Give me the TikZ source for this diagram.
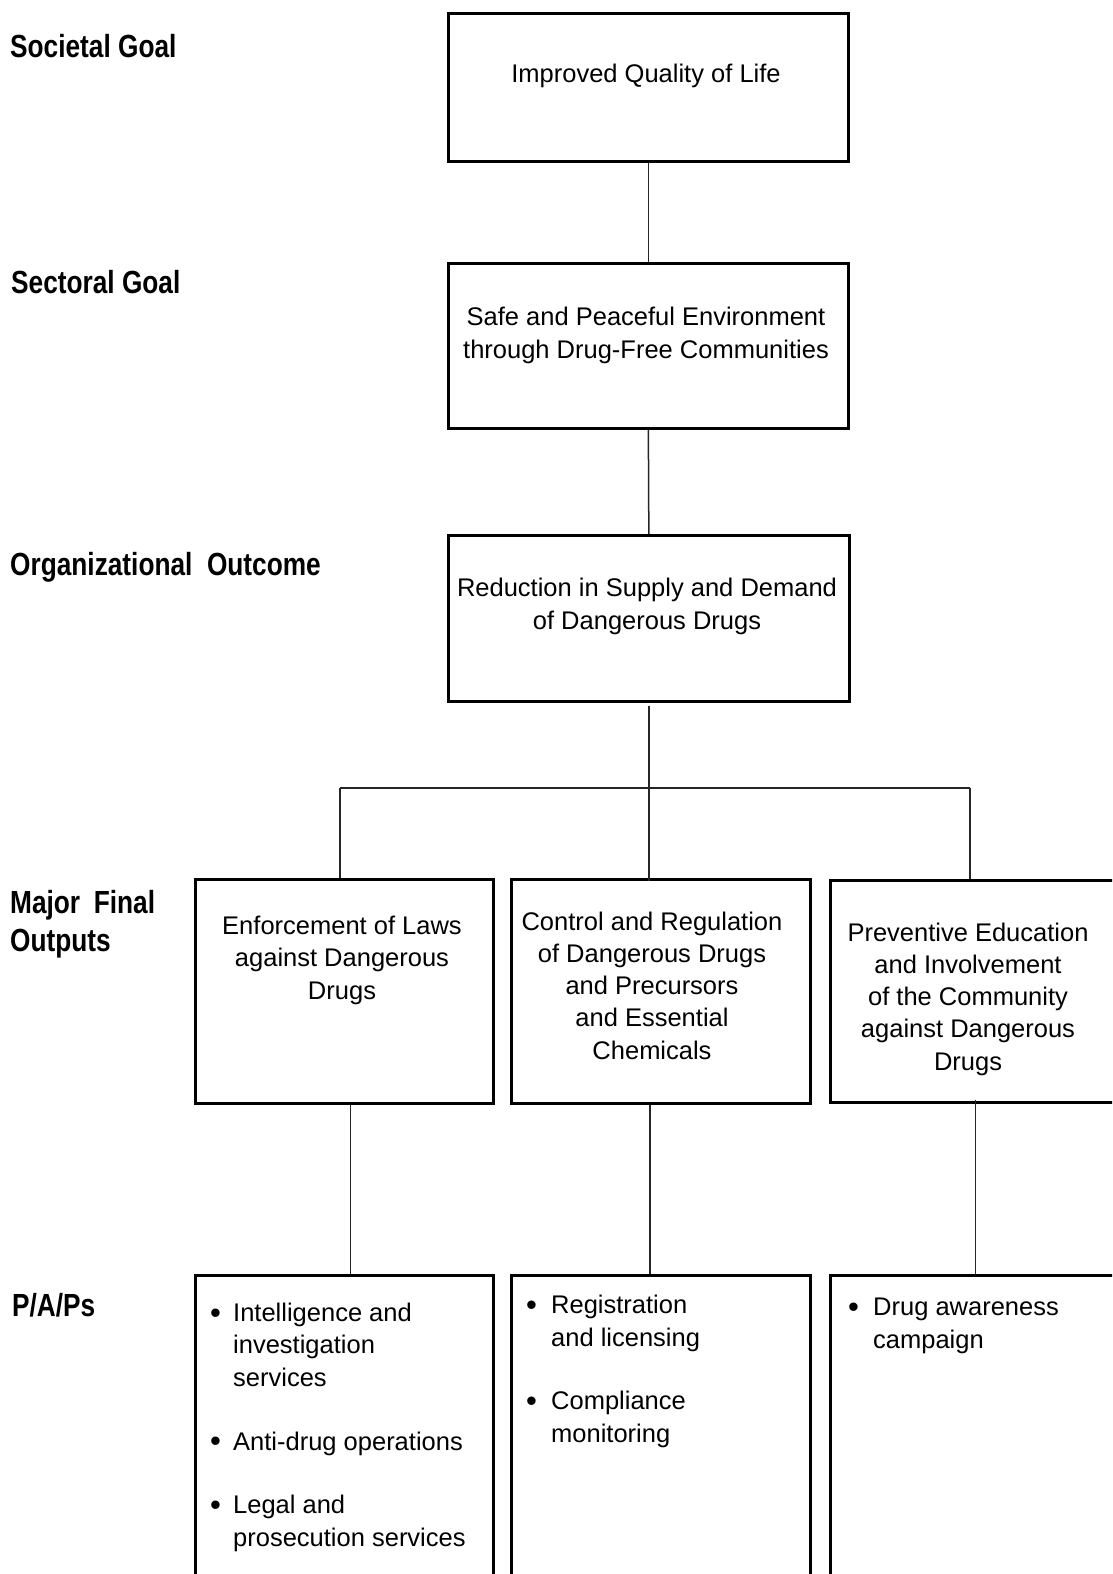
\documentclass[tikz,border=0pt]{standalone}
\usepackage{fontspec}
\setmainfont{Liberation Sans}
\newfontfamily\lblfont{Liberation Sans}[FakeStretch=0.82]
\begin{document}
\begin{tikzpicture}[x=1pt,y=-1pt,
  box/.style={draw=black, line width=2.7pt, inner sep=0pt, anchor=north west},
  link/.style={draw=black!85, line width=1.5pt},
  lbl/.style={font=\lblfont\bfseries\fontsize{32}{38}\selectfont, anchor=base west, inner sep=0pt, align=left},
  txt/.style={font=\fontsize{25.5}{32.1}\selectfont, anchor=base, inner sep=0pt, align=center},
  item/.style={font=\fontsize{25.5}{32.1}\selectfont, anchor=base west, inner sep=0pt, align=left},
  dot/.style={font=\fontsize{31}{32}\selectfont, anchor=base west, inner sep=0pt}]
\useasboundingbox (0,0) rectangle (1112,1574);
\fill[white] (0,0) rectangle (1112,1574);
\clip (0,0) rectangle (1112,1574);
% left labels (anchor = baseline of last line)
\node[lbl] (l1) at (10,57) {Societal Goal};
\node[lbl] (l2) at (11,293) {Sectoral Goal};
\node[lbl] (l3) at (10,575) {Organizational\ \ Outcome};
\node[lbl] (l4) at (10,951) {Major\hspace{0.2em} Final\\Outputs};
\node[lbl] (l5) at (12,1316) {P/A/Ps};
% boxes
\node[box, minimum width=400pt, minimum height=148pt] (b1) at (447,12) {};
\node[box, minimum width=400pt, minimum height=165pt] (b2) at (447,262) {};
\node[box, minimum width=401pt, minimum height=166pt] (b3) at (447,534) {};
\node[box, minimum width=298pt, minimum height=224pt] (m1) at (194,878) {};
\node[box, minimum width=299pt, minimum height=224pt] (m2) at (510,878) {};
\node[box, minimum width=320pt, minimum height=222pt] (m3) at (829,879) {};
\node[box, minimum width=298pt, minimum height=340pt] (p1) at (194,1274) {};
\node[box, minimum width=299pt, minimum height=340pt] (p2) at (510,1274) {};
\node[box, minimum width=320pt, minimum height=340pt] (p3) at (829,1274) {};
% connectors
\draw[link] (b1.south) -- (b2.north);
\draw[link] (b2.south) -- (b3.north);
\coordinate (busL) at (340,788);
\coordinate (busR) at (970,788);
\draw[link] ([yshift=-3pt]b3.south) -- ([yshift=-3pt]b3.south |- m2.north);
\draw[link] (busL) -- (busR);
\draw[link] (busL) -- (busL |- m1.north);
\draw[link] (busR) -- (busR |- m3.north);
\draw[link] ([xshift=6pt]m1.south) -- ([xshift=6pt]p1.north);
\draw[link] ([xshift=-11pt]m2.south) -- ([xshift=-11pt]p2.north);
\draw[link] ([xshift=-15pt,yshift=4pt]m3.south) -- ([xshift=-15pt]p3.north);
% box texts (anchor = baseline of last line)
\node[txt] (t1) at (646,82) {Improved Quality of Life};
\node[txt] (t2) at (646,358) {Safe and Peaceful Environment\\through Drug-Free Communities};
\node[txt] (t3) at (647,629) {Reduction in Supply and Demand\\of Dangerous Drugs};
\node[txt] (t4) at (342,999) {Enforcement of Laws\\against Dangerous\\Drugs};
\node[txt] (t5) at (652,1059) {Control and Regulation\\of Dangerous Drugs\\and Precursors\\and Essential\\Chemicals};
\node[txt] (t6) at (968,1070) {Preventive Education\\and Involvement\\of the Community\\against Dangerous\\Drugs};
% bullet lists
\node[dot] (k1) at (210,1323) {•};
\node[item] (i1) at (233,1386) {Intelligence and\\investigation\\services};
\node[dot] (k2) at (210,1451) {•};
\node[item] (i2) at (233,1450) {Anti-drug operations};
\node[dot] (k3) at (210,1515) {•};
\node[item] (i3) at (233,1546) {Legal and\\prosecution services};
\node[dot] (k4) at (526,1315) {•};
\node[item] (i4) at (551,1346) {Registration\\and licensing};
\node[dot] (k5) at (526,1411) {•};
\node[item] (i5) at (551,1442) {Compliance\\monitoring};
\node[dot] (k6) at (848,1317) {•};
\node[item] (i6) at (873,1348) {Drug awareness\\campaign};
\end{tikzpicture}
\end{document}
